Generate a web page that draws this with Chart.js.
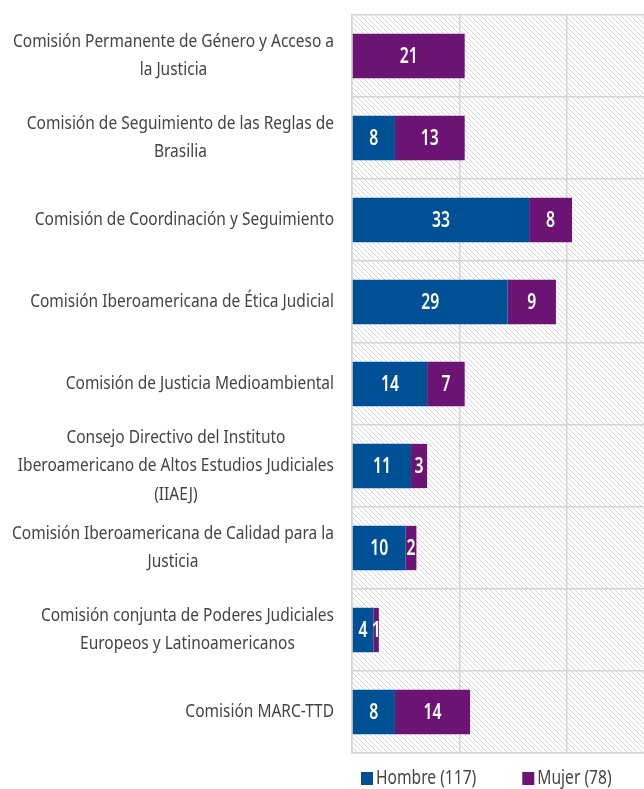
<!DOCTYPE html>
<html>
<head>
<meta charset="utf-8">
<script src="https://cdn.jsdelivr.net/npm/chart.js@4"></script>
<style>
    html, body { margin: 0; padding: 0; background: #fff; overflow: hidden; }
    #wrap { width: 680px; height: 789px; }
</style>
</head>
<body>
<div id="wrap"><canvas id="comisiones" width="680" height="789"></canvas></div>
<script>
(function() {
    'use strict';

    // Category labels, one array of lines per commission
    var categories = [
        ['Comisión Permanente de Género y Acceso a', 'la Justicia'],
        ['Comisión de Seguimiento de las Reglas de', 'Brasilia'],
        ['Comisión de Coordinación y Seguimiento'],
        ['Comisión Iberoamericana de Ética Judicial'],
        ['Comisión de Justicia Medioambiental'],
        ['Consejo Directivo del Instituto', 'Iberoamericano de Altos Estudios Judiciales', '(IIAEJ)'],
        ['Comisión Iberoamericana de Calidad para la', 'Justicia'],
        ['Comisión conjunta de Poderes Judiciales', 'Europeos y Latinoamericanos'],
        ['Comisión MARC-TTD']
    ];

    var hombre = [0, 8, 33, 29, 14, 11, 10, 4, 8];
    var mujer = [21, 13, 8, 9, 7, 3, 2, 1, 14];

    var seriesNames = ['Hombre (117)', 'Mujer (78)'];

    // x axis gridlines every 20
    var xTicks = [0, 20, 40, 60];

    var BLUE = '#005096';
    var PURPLE = '#6c1473';
    var TEXT = '#444444';
    var GRID = '#d4d4d4';
    var FONT = '"Noto Sans", "Open Sans", sans-serif';

    // the original face is a condensed one: squeeze text horizontally
    function squeezed(ctx, text, x, y, sx) {
        ctx.save();
        ctx.translate(x, y);
        ctx.scale(sx, 1);
        ctx.fillText(text, 0, 0);
        ctx.restore();
    }

    // diagonal hatch used behind the bars
    function hatch() {
        var pc = document.createElement('canvas');
        pc.width = 5;
        pc.height = 5;
        var p = pc.getContext('2d');
        p.strokeStyle = '#d6d6d6';
        p.lineWidth = 1;
        p.beginPath();
        p.moveTo(0, 0); p.lineTo(5, 5);
        p.moveTo(-1, 4); p.lineTo(1, 6);
        p.moveTo(4, -1); p.lineTo(6, 1);
        p.stroke();
        return p.createPattern(pc, 'repeat');
    }

    var hatchPlugin = {
        id: 'hatch',
        beforeDraw: function(chart) {
            var a = chart.chartArea, ctx = chart.ctx;
            ctx.save();
            ctx.fillStyle = hatch();
            ctx.fillRect(a.left, a.top, a.right - a.left, a.bottom - a.top);
            ctx.restore();
        }
    };

    // Category labels: block right-aligned against the axis, lines centred inside the block
    var labelPlugin = {
        id: 'catLabels',
        afterDraw: function(chart) {
            var ctx = chart.ctx, scale = chart.scales.y;
            var rightX = chart.chartArea.left - 18;
            ctx.save();
            ctx.font = '18px ' + FONT;
            var widest = 0;
            categories.forEach(function(lines) {
                lines.forEach(function(l) { widest = Math.max(widest, ctx.measureText(l).width); });
            });
            var sx = Math.min(1, 322 / widest);
            var lh = 28.5;
            ctx.fillStyle = TEXT;
            ctx.textAlign = 'center';
            ctx.textBaseline = 'middle';
            categories.forEach(function(lines, i) {
                var y = scale.getPixelForValue(i);
                var bw = 0;
                lines.forEach(function(l) { bw = Math.max(bw, ctx.measureText(l).width * sx); });
                var cx = rightX - bw / 2;
                var y0 = y - (lines.length - 1) * lh / 2;
                lines.forEach(function(l, k) {
                    squeezed(ctx, l, cx, y0 + k * lh, sx);
                });
            });
            ctx.restore();
        }
    };

    // White value inside each segment
    var valuePlugin = {
        id: 'values',
        afterDatasetsDraw: function(chart) {
            var ctx = chart.ctx;
            ctx.save();
            ctx.font = '600 21px ' + FONT;
            ctx.fillStyle = '#ffffff';
            ctx.textAlign = 'center';
            ctx.textBaseline = 'middle';
            chart.data.datasets.forEach(function(ds, i) {
                var meta = chart.getDatasetMeta(i);
                meta.data.forEach(function(bar, j) {
                    var v = ds.data[j];
                    if (!v) {
                        return;
                    }
                    var c = bar.getCenterPoint();
                    squeezed(ctx, String(v), c.x, c.y + 1, 0.75);
                });
            });
            ctx.restore();
        }
    };

    // Legend drawn under the plot area, starting near its left edge
    var legendPlugin = {
        id: 'bottomLegend',
        afterDraw: function(chart) {
            var ctx = chart.ctx;
            var x = chart.chartArea.left + 9;
            var y = 778;
            var sx = 0.78;
            ctx.save();
            ctx.font = '20px ' + FONT;
            ctx.textBaseline = 'middle';
            ctx.textAlign = 'left';
            chart.data.datasets.forEach(function(ds) {
                ctx.fillStyle = ds.backgroundColor;
                ctx.fillRect(x, y - 6, 12, 13);
                ctx.fillStyle = TEXT;
                squeezed(ctx, ds.label, x + 15, y, sx);
                x += 15 + ctx.measureText(ds.label).width * sx + 46;
            });
            ctx.restore();
        }
    };

    new Chart(document.getElementById('comisiones').getContext('2d'), {
        type: 'bar',
        data: {
            labels: categories,
            datasets: [
                { label: seriesNames[0], data: hombre, backgroundColor: BLUE },
                { label: seriesNames[1], data: mujer, backgroundColor: PURPLE }
            ]
        },
        options: {
            indexAxis: 'y',
            responsive: false,
            animation: false,
            layout: { padding: { top: 15, bottom: 36, right: 6, left: 0 } },
            datasets: { bar: { barPercentage: 0.54, categoryPercentage: 1 } },
            plugins: {
                legend: { display: false },
                tooltip: { enabled: false }
            },
            scales: {
                x: {
                    stacked: true,
                    min: xTicks[0],
                    max: xTicks[xTicks.length - 1],
                    afterBuildTicks: function(scale) {
                        scale.ticks = xTicks.map(function(v) { return { value: v }; });
                    },
                    ticks: { display: false },
                    grid: { color: GRID, drawTicks: false, lineWidth: 1.5 },
                    border: { display: true, color: GRID, width: 1.5 }
                },
                y: {
                    stacked: true,
                    ticks: { display: false },
                    grid: { color: GRID, drawTicks: false, offset: true, lineWidth: 1.5 },
                    border: { display: true, color: GRID, width: 1.5 },
                    afterFit: function(scale) { scale.width = 352; }
                }
            }
        },
        plugins: [hatchPlugin, valuePlugin, labelPlugin, legendPlugin]
    });

}());
</script>
</body>
</html>
